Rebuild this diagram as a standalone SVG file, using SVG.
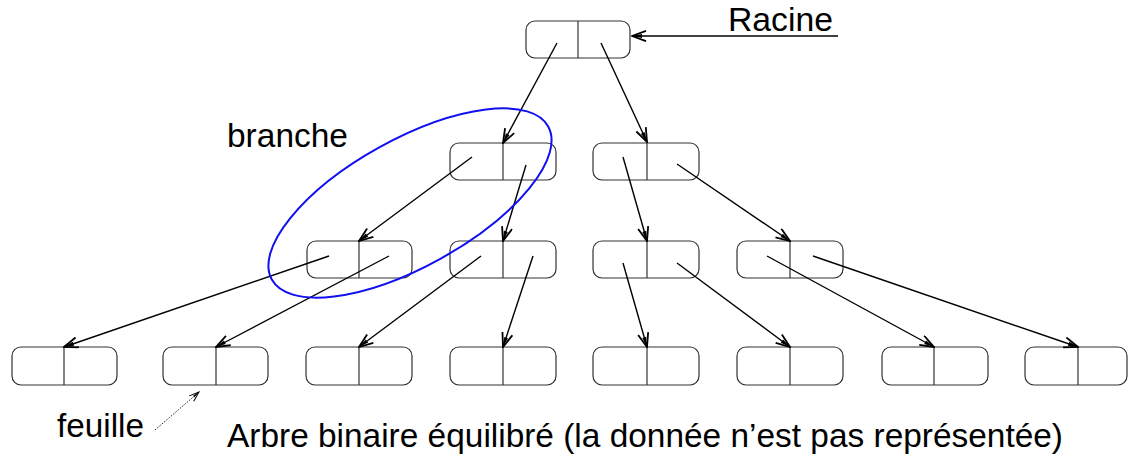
<svg xmlns="http://www.w3.org/2000/svg" width="1128" height="459" viewBox="0 0 1128 459">
<style>
.n rect{fill:#fff;stroke:#333;stroke-width:1.2}
.n line{stroke:#333;stroke-width:1.2}
.c line{stroke:#000;stroke-width:1.4;marker-end:url(#ah)}
.t{font-family:"Liberation Sans",Arial,sans-serif;font-size:33px;fill:#000}
</style>
<defs>
<marker id="ah" markerWidth="16" markerHeight="14" refX="15" refY="6" orient="auto" markerUnits="userSpaceOnUse">
<path d="M1,0.8 L15,6 L1,11.2" fill="none" stroke="#000" stroke-width="1.8"/>
<path d="M5,4 L15,6 L5,8 Z" fill="#000"/>
</marker>
<marker id="ahs" markerWidth="12" markerHeight="10" refX="11" refY="4" orient="auto" markerUnits="userSpaceOnUse">
<path d="M1,0.5 L11,4 L1,7.5" fill="none" stroke="#000" stroke-width="1"/>
<path d="M4,3 L11,4 L4,5 Z" fill="#000"/>
</marker>
</defs>
<rect width="1128" height="459" fill="#fff"/>

<g id="n-root" class="n"><rect x="526" y="21" width="104" height="37" rx="9"/><line x1="578" y1="21" x2="578" y2="58"/></g>

<g id="n-2a" class="n"><rect x="450" y="143" width="106" height="37" rx="9"/><line x1="503" y1="143" x2="503" y2="180"/></g>
<g id="n-2b" class="n"><rect x="593" y="143" width="106" height="37" rx="9"/><line x1="647" y1="143" x2="647" y2="180"/></g>

<g id="n-3a" class="n"><rect x="307" y="241" width="105" height="37" rx="9"/><line x1="359" y1="241" x2="359" y2="278"/></g>
<g id="n-3b" class="n"><rect x="450" y="241" width="106" height="37" rx="9"/><line x1="503" y1="241" x2="503" y2="278"/></g>
<g id="n-3c" class="n"><rect x="593" y="241" width="106" height="37" rx="9"/><line x1="647" y1="241" x2="647" y2="278"/></g>
<g id="n-3d" class="n"><rect x="737" y="241" width="106" height="37" rx="9"/><line x1="790" y1="241" x2="790" y2="278"/></g>

<g id="n-4a" class="n"><rect x="12" y="347" width="105" height="38" rx="9"/><line x1="64" y1="347" x2="64" y2="385"/></g>
<g id="n-4b" class="n"><rect x="163" y="347" width="105" height="38" rx="9"/><line x1="216" y1="347" x2="216" y2="385"/></g>
<g id="n-4c" class="n"><rect x="306" y="347" width="106" height="38" rx="9"/><line x1="359" y1="347" x2="359" y2="385"/></g>
<g id="n-4d" class="n"><rect x="450" y="347" width="106" height="38" rx="9"/><line x1="503" y1="347" x2="503" y2="385"/></g>
<g id="n-4e" class="n"><rect x="593" y="347" width="106" height="38" rx="9"/><line x1="647" y1="347" x2="647" y2="385"/></g>
<g id="n-4f" class="n"><rect x="737" y="347" width="106" height="38" rx="9"/><line x1="790" y1="347" x2="790" y2="385"/></g>
<g id="n-4g" class="n"><rect x="882" y="347" width="106" height="38" rx="9"/><line x1="934" y1="347" x2="934" y2="385"/></g>
<g id="n-4h" class="n"><rect x="1025" y="347" width="102" height="38" rx="9"/><line x1="1078" y1="347" x2="1078" y2="385"/></g>

<g id="connectors" class="c">
<line x1="557" y1="43" x2="503" y2="143"/>
<line x1="601" y1="43" x2="647" y2="142"/>
<line x1="472" y1="157" x2="359" y2="241"/>
<line x1="526" y1="165" x2="503" y2="241"/>
<line x1="623" y1="157" x2="647" y2="241"/>
<line x1="677" y1="164" x2="790" y2="241"/>
<line x1="329" y1="256" x2="64" y2="347"/>
<line x1="389" y1="256" x2="216" y2="347"/>
<line x1="481" y1="256" x2="359" y2="347"/>
<line x1="533" y1="256" x2="503" y2="347"/>
<line x1="623" y1="263" x2="647" y2="347"/>
<line x1="677" y1="263" x2="790" y2="347"/>
<line x1="767" y1="256" x2="934" y2="347"/>
<line x1="813" y1="256" x2="1078" y2="347"/>
<line x1="838" y1="36" x2="632" y2="36"/>
<line x1="155" y1="430" x2="199" y2="392" style="stroke-width:0.9;stroke-dasharray:1.5,1.5;marker-end:url(#ahs)"/>
</g>

<ellipse id="branche-ellipse" cx="410" cy="203" rx="158" ry="63.5" transform="rotate(-29 410 203)" fill="none" stroke="#1010f0" stroke-width="2"/>

<g id="labels">
<text class="t" x="728" y="31" textLength="105" lengthAdjust="spacingAndGlyphs">Racine</text>
<text class="t" x="227" y="147" textLength="121" lengthAdjust="spacingAndGlyphs">branche</text>
<text class="t" x="57" y="437" textLength="87" lengthAdjust="spacingAndGlyphs">feuille</text>
<text class="t" x="227" y="447" textLength="836" lengthAdjust="spacingAndGlyphs">Arbre binaire équilibré (la donnée n’est pas représentée)</text>
</g>
</svg>
